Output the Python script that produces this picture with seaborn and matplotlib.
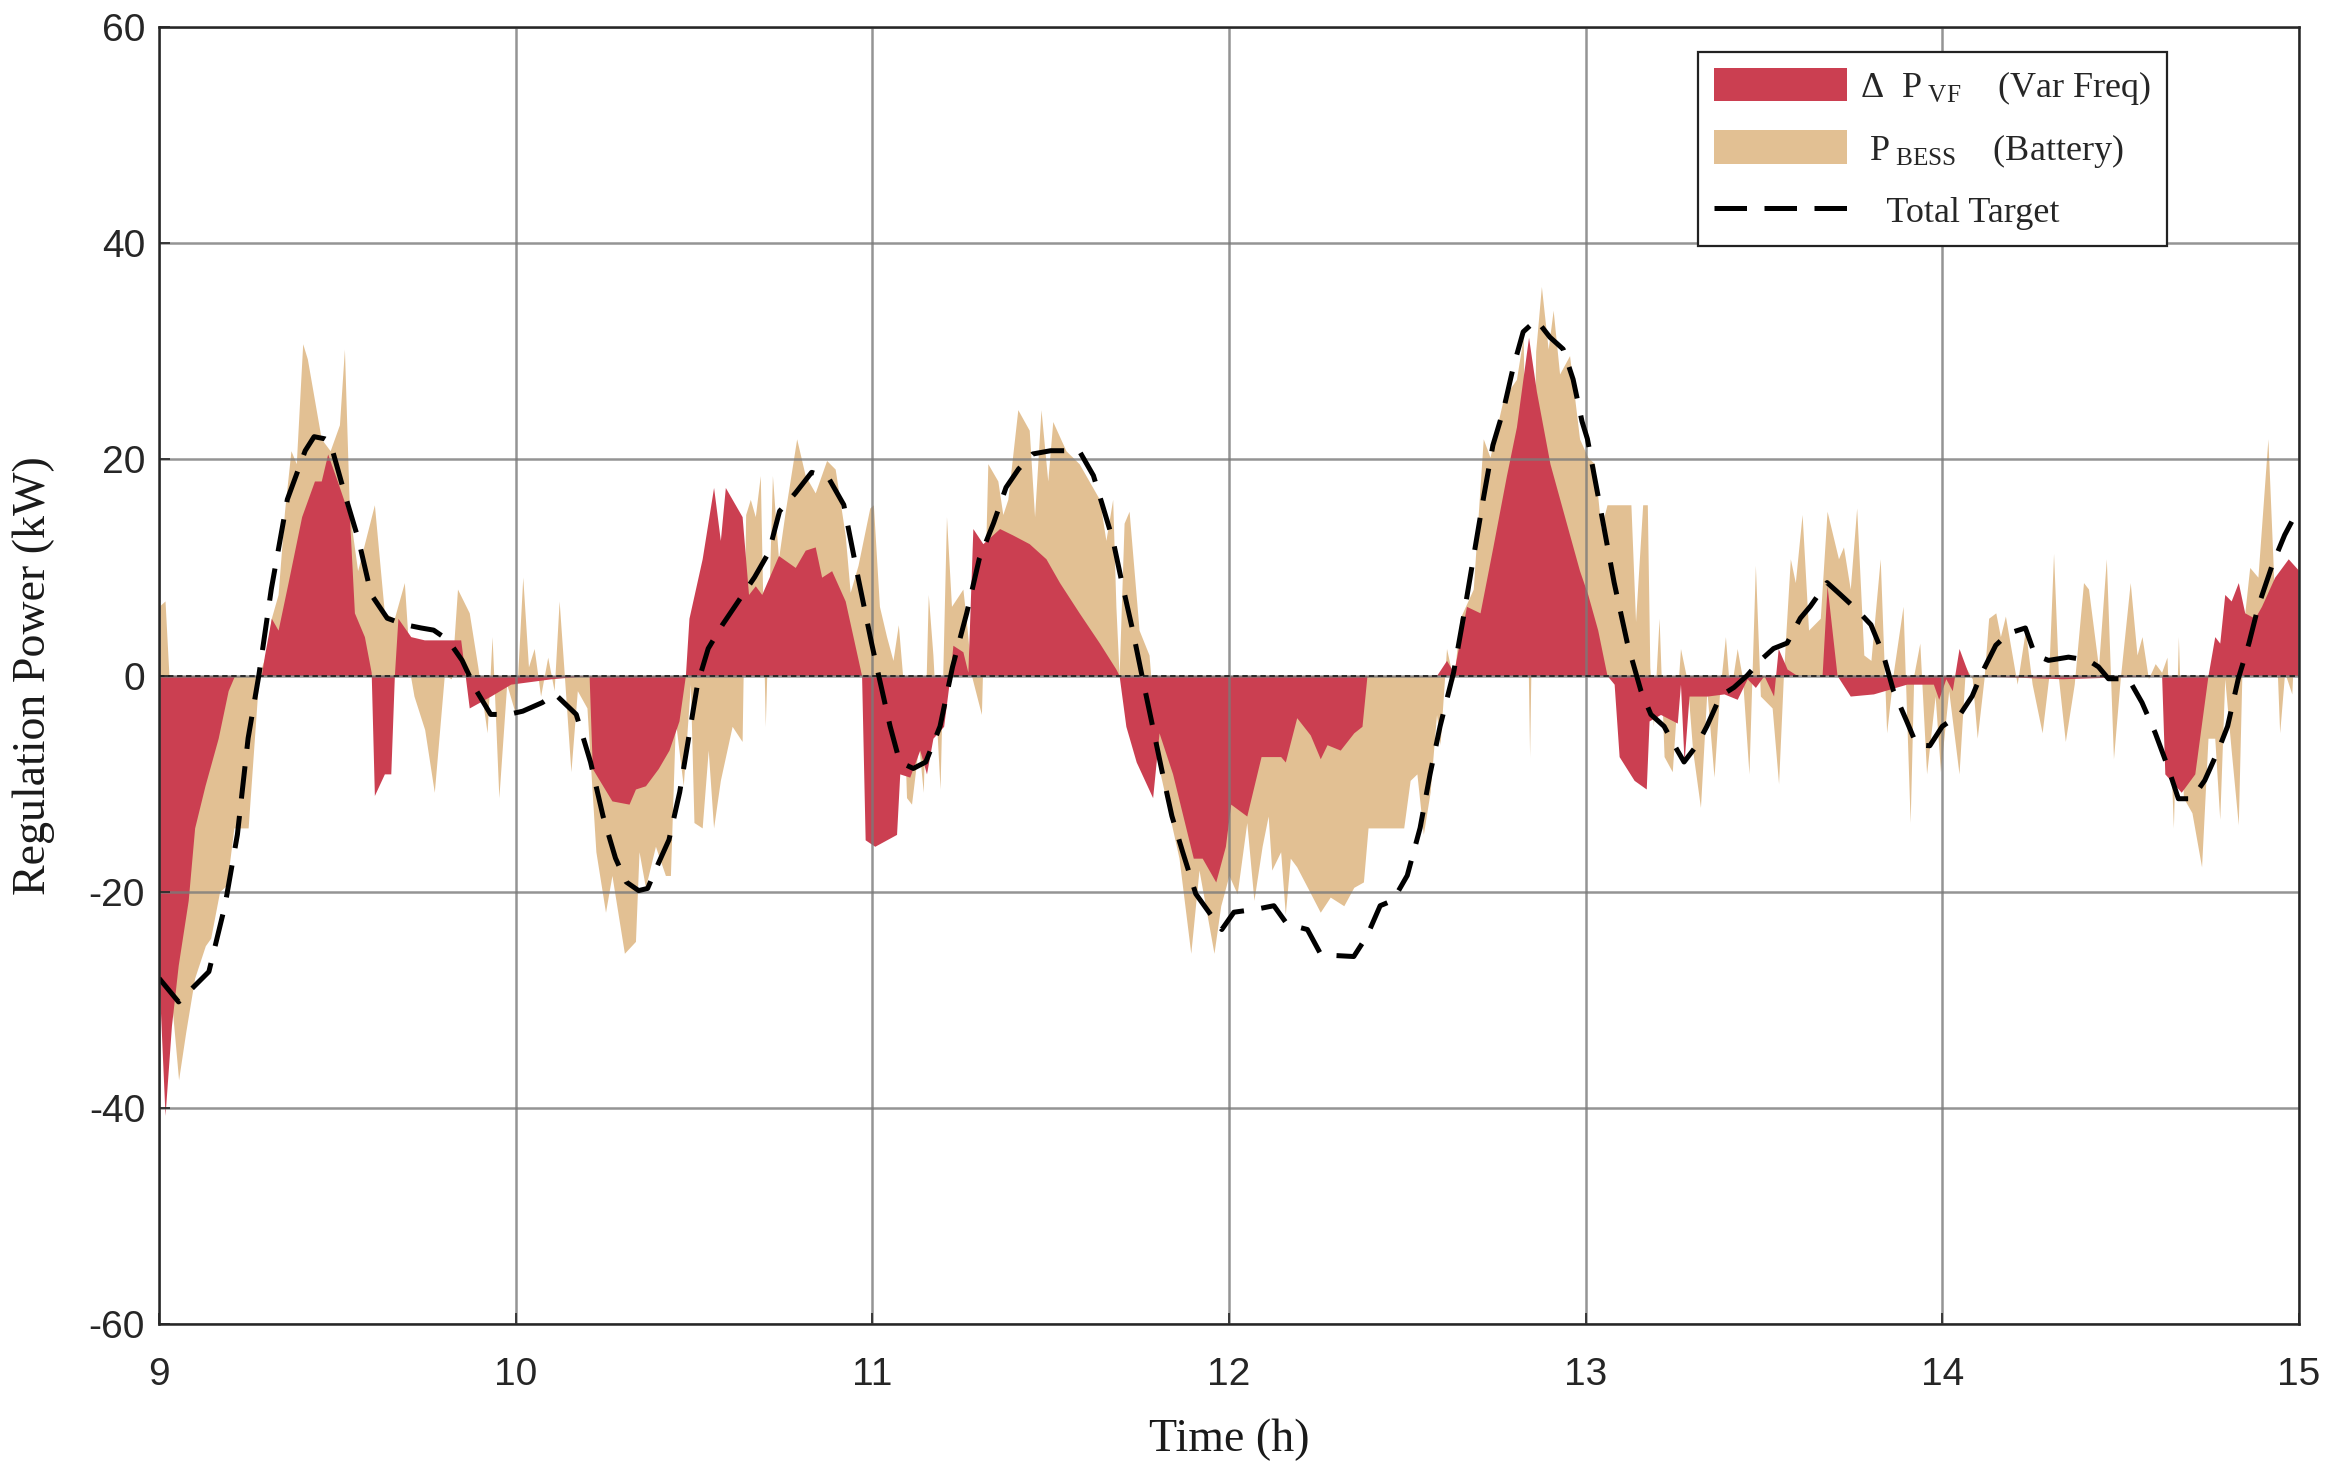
import numpy as np
import pandas as pd
import matplotlib
matplotlib.use("Agg")
import matplotlib.pyplot as plt
import seaborn as sns
from matplotlib.patches import Patch
from matplotlib.lines import Line2D

# ---------------- data ----------------
t_target = [9.0, 9.055, 9.14, 9.185, 9.22, 9.25, 9.28, 9.315, 9.36, 9.41, 9.435, 9.465, 9.48, 9.52, 9.56,
            9.595, 9.64, 9.69, 9.735, 9.77, 9.81, 9.85, 9.89, 9.93, 9.98, 10.02, 10.075, 10.11, 10.17, 10.21,
            10.245, 10.28, 10.31, 10.345, 10.37, 10.40, 10.43, 10.46, 10.485, 10.51, 10.54, 10.58, 10.625,
            10.67, 10.71, 10.74, 10.785, 10.83, 10.877, 10.92, 10.96, 10.998, 11.02, 11.05, 11.077, 11.115,
            11.15, 11.19, 11.225, 11.265, 11.30, 11.34, 11.375, 11.41, 11.45, 11.50, 11.545, 11.58, 11.62,
            11.645, 11.675, 11.70, 11.73, 11.758, 11.786, 11.814, 11.84, 11.87, 11.907, 11.944, 11.98, 12.014,
            12.08, 12.126, 12.163, 12.22, 12.256, 12.294, 12.35, 12.387, 12.424, 12.46, 12.50, 12.536, 12.564,
            12.592, 12.63, 12.657, 12.685, 12.713, 12.74, 12.77, 12.797, 12.825, 12.862, 12.90, 12.937, 12.965,
            12.99, 13.005, 13.043, 13.08, 13.117, 13.155, 13.183, 13.22, 13.248, 13.276, 13.313, 13.34, 13.378,
            13.416, 13.453, 13.49, 13.527, 13.565, 13.602, 13.63, 13.677, 13.714, 13.76, 13.80, 13.835, 13.863,
            13.90, 13.928, 13.965, 14.0, 14.05, 14.084, 14.112, 14.15, 14.186, 14.233, 14.26, 14.298, 14.354,
            14.41, 14.438, 14.466, 14.522, 14.56, 14.597, 14.634, 14.662, 14.70, 14.736, 14.774, 14.80, 14.83,
            14.86, 14.886, 14.925, 14.96, 15.0]
target = [-28, -30.2, -27.4, -21.3, -14.7, -5.8, 0, 8, 16.3, 20.8, 22.1, 21.9, 21.6, 16.9, 12.5,
          7.5, 5.3, 4.7, 4.4, 4.2, 3.3, 1.4, -1.4, -3.6, -3.6, -3.3, -2.5, -1.7, -3.6, -8,
          -13, -16.9, -19.1, -19.9, -19.7, -17.4, -15.2, -10.8, -5.8, -0.8, 2.5, 4.7, 6.9,
          9.1, 11.4, 15.2, 16.9, 18.8, 18.3, 15.8, 9.1, 3, -0.3, -4.7, -8, -8.6,
          -8, -4.7, 0.8, 5.8, 10.8, 14.1, 17.4, 19.1, 20.5, 20.8, 20.8, 20.8, 18.5,
          15.8, 12.5, 8.6, 4.2, -0.3, -4.7, -9.1, -13, -16.3, -20.2, -21.9, -23.5, -21.9,
          -21.6, -21.3, -23, -23.5, -25.7, -25.9, -26, -24.1, -21.3, -20.8, -18.5, -14.1, -9.1,
          -4.7, 0.3, 5.3, 10.8, 16.3, 21.3, 24.6, 28.5, 31.8, 32.9, 31.3, 30.2, 27.4,
          23.5, 21.9, 15.2, 8.6, 3, -1.4, -3.6, -4.7, -6.4, -8, -6.4, -4.7, -1.9,
          -1.1, 0, 1.4, 2.5, 3, 5.3, 6.4, 8.6, 7.5, 6.1, 4.7, 1.9, -1.4,
          -4.2, -6.4, -6.5, -4.7, -3.6, -1.9, 0.3, 2.8, 3.9, 4.4, 1.9, 1.4, 1.7,
          1.4, 0.8, -0.3, -0.3, -2.5, -5.3, -8.6, -11.4, -11.4, -9.7, -6.9, -4.7, -0.3,
          3, 6.4, 10.2, 13, 15.5]

t_vf = [9.0, 9.017, 9.035, 9.054, 9.082, 9.10, 9.129, 9.166, 9.194, 9.212, 9.287, 9.296, 9.315, 9.334,
        9.362, 9.40, 9.436, 9.455, 9.473, 9.50, 9.534, 9.548, 9.576, 9.595, 9.604, 9.632, 9.65, 9.66,
        9.67, 9.706, 9.744, 9.79, 9.846, 9.87, 9.93, 9.986, 10.10, 10.206, 10.215, 10.27, 10.318, 10.336,
        10.364, 10.40, 10.43, 10.458, 10.476, 10.486, 10.523, 10.555, 10.574, 10.588, 10.635, 10.653,
        10.672, 10.69, 10.737, 10.784, 10.812, 10.84, 10.858, 10.886, 10.924, 10.95, 10.97, 10.98, 11.007,
        11.068, 11.077, 11.105, 11.133, 11.152, 11.17, 11.20, 11.217, 11.226, 11.254, 11.268, 11.282,
        11.31, 11.357, 11.394, 11.44, 11.487, 11.525, 11.58, 11.637, 11.683, 11.692, 11.711, 11.74,
        11.786, 11.804, 11.842, 11.90, 11.925, 11.963, 11.99, 12.005, 12.05, 12.09, 12.145, 12.158,
        12.19, 12.228, 12.256, 12.275, 12.312, 12.35, 12.373, 12.387, 12.582, 12.61, 12.63, 12.666,
        12.704, 12.74, 12.778, 12.806, 12.84, 12.862, 12.90, 12.946, 12.983, 13.006, 13.034, 13.06,
        13.08, 13.094, 13.136, 13.17, 13.178, 13.21, 13.257, 13.266, 13.276, 13.29, 13.341, 13.388,
        13.425, 13.453, 13.476, 13.50, 13.527, 13.54, 13.565, 13.593, 13.663, 13.677, 13.705, 13.742,
        13.807, 13.90, 13.975, 13.99, 14.01, 14.028, 14.047, 14.075, 14.336, 14.615, 14.624, 14.67,
        14.708, 14.745, 14.764, 14.778, 14.792, 14.81, 14.83, 14.848, 14.876, 14.895, 14.932, 14.97, 15.0]
vf = [-28, -40.7, -32.4, -26.8, -20.8, -14.1, -10.2, -5.8, -1.4, 0, 0, 1.9, 5.3, 4.2,
      8.6, 14.7, 18, 18, 20.5, 18, 14.7, 5.8, 3.6, 0.3, -11.1, -9.1, -9.1, 0,
      5.3, 3.6, 3.3, 3.3, 3.3, -3, -1.9, -0.8, -0.3, 0, -8.6, -11.6, -11.9, -10.5,
      -10.2, -8.6, -6.9, -4.2, 0, 5.3, 10.8, 17.4, 12.5, 17.4, 14.7, 7.5,
      8.3, 7.5, 11.1, 10, 11.6, 11.9, 9.1, 9.7, 6.9, 3, 0, -15.2, -15.8,
      -14.7, -9.1, -9.4, -6.9, -9.1, -5.8, -4.7, -0.3, 2.8, 2.2, 0.3, 13.6,
      12.2, 13.6, 13, 12.2, 10.8, 8.6, 5.8, 3, 0.6, 0, -4.7, -8,
      -11.3, -5.3, -9.1, -16.9, -16.9, -19.1, -15.8, -11.9, -13, -7.5, -7.5, -8,
      -3.9, -5.5, -7.7, -6.4, -6.9, -5.3, -4.7, 0, 0, 1.4, 0.3, 6.4,
      5.8, 11.9, 18.5, 23, 31.3, 26.3, 19.6, 14.1, 9.7, 7.5, 4.2, 0,
      -0.8, -7.5, -9.7, -10.5, -4.2, -3.6, -4.4, -0.8, -8, -1.9, -1.9, -1.7,
      -2.2, -0.3, -1.1, 0, -1.9, 2.5, 0.6, 0, 0, 8.3, 0, -1.9,
      -1.7, -0.8, -0.8, -2.2, -0.3, -1.4, 2.5, 0, -0.3, 0, -9.1, -10.8,
      -9.1, 0, 3.6, 3, 7.5, 6.9, 8.6, 5.8, 5.3, 6.4, 9.1, 10.8, 9.7]

t_bess = [9.0, 9.017, 9.028, 9.035, 9.055, 9.075, 9.10, 9.13, 9.145, 9.17, 9.19, 9.21, 9.25, 9.28, 9.30,
          9.315, 9.334, 9.352, 9.37, 9.385, 9.403, 9.416, 9.455, 9.48, 9.506, 9.52, 9.534, 9.557, 9.604,
          9.632, 9.66, 9.688, 9.705, 9.715, 9.745, 9.772, 9.80, 9.82, 9.837, 9.87, 9.894, 9.92, 9.934,
          9.953, 9.975, 10.0, 10.02, 10.036, 10.052, 10.07, 10.09, 10.108, 10.122, 10.136, 10.155, 10.173,
          10.20, 10.225, 10.252, 10.27, 10.305, 10.336, 10.346, 10.364, 10.392, 10.42, 10.434, 10.448,
          10.47, 10.49, 10.50, 10.523, 10.54, 10.555, 10.574, 10.607, 10.635, 10.645, 10.658, 10.672,
          10.686, 10.70, 10.72, 10.737, 10.756, 10.788, 10.812, 10.84, 10.872, 10.896, 10.924, 10.938,
          10.96, 10.993, 11.003, 11.02, 11.04, 11.058, 11.073, 11.085, 11.096, 11.11, 11.13, 11.143,
          11.157, 11.17, 11.19, 11.208, 11.222, 11.254, 11.263, 11.278, 11.306, 11.324, 11.352, 11.366,
          11.38, 11.408, 11.44, 11.455, 11.473, 11.492, 11.506, 11.543, 11.58, 11.637, 11.655, 11.674,
          11.683, 11.692, 11.706, 11.72, 11.748, 11.776, 11.80, 11.86, 11.893, 11.916, 11.958, 11.977,
          12.0, 12.023, 12.05, 12.07, 12.093, 12.11, 12.12, 12.145, 12.158, 12.172, 12.19, 12.22, 12.256,
          12.284, 12.322, 12.35, 12.377, 12.39, 12.49, 12.508, 12.527, 12.545, 12.564, 12.582, 12.592,
          12.61, 12.63, 12.648, 12.685, 12.713, 12.732, 12.77, 12.806, 12.825, 12.843, 12.86, 12.876,
          12.895, 12.909, 12.927, 12.955, 12.983, 13.006, 13.025, 13.043, 13.06, 13.127, 13.14, 13.16,
          13.173, 13.18, 13.19, 13.206, 13.22, 13.243, 13.266, 13.285, 13.30, 13.322, 13.34, 13.36,
          13.375, 13.392, 13.405, 13.425, 13.44, 13.458, 13.476, 13.49, 13.523, 13.541, 13.555, 13.574,
          13.588, 13.607, 13.625, 13.658, 13.677, 13.709, 13.723, 13.742, 13.76, 13.78, 13.80, 13.826,
          13.844, 13.863, 13.89, 13.91, 13.92, 13.937, 13.956, 13.98, 13.995, 14.018, 14.047, 14.065,
          14.084, 14.098, 14.117, 14.13, 14.15, 14.163, 14.177, 14.21, 14.233, 14.252, 14.28, 14.298,
          14.312, 14.326, 14.345, 14.37, 14.396, 14.41, 14.438, 14.46, 14.48, 14.499, 14.527, 14.546,
          14.56, 14.578, 14.597, 14.615, 14.63, 14.648, 14.662, 14.676, 14.70, 14.727, 14.745, 14.764,
          14.778, 14.792, 14.81, 14.83, 14.843, 14.862, 14.885, 14.913, 14.927, 14.946, 14.96, 14.98, 15.0]
bess = [6.4, 6.9, 0, -30, -37.4, -33, -28, -25, -24.3, -20, -19.4, -14.1, -14.1, 0, 2,
        5.3, 7.5, 15.2, 20.8, 19.6, 30.7, 29.3, 21.9, 20.8, 23.2, 30.2, 15.2, 9.7, 15.8,
        5.8, 5.3, 8.6, 0, -1.9, -5, -10.8, 0, -0.3, 8, 5.8, 0.8, -5.3, 3.6,
        -11.3, -0.8, -3.6, 9.1, 0.8, 2.5, -1.9, 1.7, -1.4, 6.9, 0.3, -8.9, -1.4,
        -3, -16.3, -21.9, -18.5, -25.7, -24.6, -16.3, -19.6, -15.8, -18.5, -18.5, -4.2,
        -10.2, -0.8, -13.6, -14.1, -6.9, -14.1, -9.7, -4.7, -6.1, 14.9, 16.3, 14.7,
        18.5, -4.7, 18.5, 10.8, 15.2, 21.9, 18.5, 16.9, 19.9, 19.1, 13, 7.7,
        10.2, 15.5, 15.8, 6.4, 3.6, 1.4, 4.7, 0, -11.3, -11.9, -6.4, -10.8,
        7.5, 1.9, -10.5, 14.7, 6.4, 8, 5.3, 0, -3.6, 19.6, 18, 14.9,
        16.3, 24.6, 22.7, 14.7, 24.6, 18, 23.5, 20.8, 19.6, 16.3, 12.5, 16.3,
        6.4, 0, 14.1, 15.2, 4.2, 1.9, -8, -16.9, -25.7, -18, -25.7, -21.3,
        -18.5, -20.2, -13.6, -20.8, -15.8, -13, -18, -16.3, -22.1, -16.9, -17.7, -19.6, -21.9,
        -20.5, -21.3, -19.6, -19.1, -14.1, -14.1, -9.7, -9.1, -14.7, -10.8, -3.6, -6.4,
        2.5, -0.5, 5.3, 8, 21.9, 20.2, 25.7, 27.4, 31.3, -7.5, 30, 36,
        30.2, 33.8, 27.9, 29.6, 21.9, 20.2, 19.6, 13.6, 15.8, 15.8, 5, 15.8,
        15.8, 0.8, -4.7, 5.3, -7.5, -8.9, 2.5, -0.5, -6.9, -12.2, -1.4, -9.4,
        -1.9, 3.6, -1.9, 2.5, -0.3, -9.1, 10.2, -1.9, -3, -10, 0.3, 10.8,
        8.6, 14.9, 4.2, 5.3, 15.2, 10.8, 11.9, 8, 15.5, 1.9, 1.4, 10.8,
        -5.3, 0.3, 6.4, -13.6, 0, 3, -9.1, -1.9, -8.9, -1.4, -9.1, 0.8,
        -0.3, -5.8, -0.3, 5.3, 5.8, 3.6, 5.5, -0.8, 4.2, -0.8, -5.3, -0.3,
        11.3, -0.3, -6.1, -0.8, 8.6, 8, 0.8, 10.8, -7.7, -0.3, 8.6, 1.9,
        3.6, -0.3, 1.1, 0.3, 1.7, -14.1, 3.6, -11.3, -12.7, -17.7, -5.8, -5.8,
        -13.3, -0.3, -6.9, -13.8, 4.2, 10, 9.1, 21.9, 10.8, -5.3, 0.3, -1.7, 12.5]

x_ticks = [9, 10, 11, 12, 13, 14, 15]
y_ticks = [-60, -40, -20, 0, 20, 40, 60]
legend_labels = ["\u0394  P$_{\\ \\mathrm{VF}}$    (Var Freq)",
                 " P$_{\\ \\mathrm{BESS}}$    (Battery)",
                 "   Total Target"]

RED = "#CB3F51"
TAN = "#E2C093"

# ---------------- style ----------------
sns.set_theme(style="white")
plt.rcParams["font.family"] = ["Liberation Serif", "DejaVu Serif"]
plt.rcParams["axes.unicode_minus"] = False
plt.rcParams["mathtext.fontset"] = "custom"
plt.rcParams["mathtext.rm"] = "Liberation Serif"
plt.rcParams["mathtext.it"] = "Liberation Serif:italic"
plt.rcParams["mathtext.bf"] = "Liberation Serif:bold"

fig = plt.figure(figsize=(23.48, 14.78), dpi=100)
ax = fig.add_axes([0.0677, 0.1042, 0.9114, 0.8775])

ax.fill_between(t_bess, 0, bess, color=TAN, lw=0, zorder=1)
ax.fill_between(t_vf, 0, vf, color=RED, lw=0, zorder=2)
ax.axhline(0, color="#222222", lw=1.3, ls=(0, (3, 2)), zorder=3)

df_t = pd.DataFrame({"t": t_target, "p": target})
sns.lineplot(data=df_t, x="t", y="p", ax=ax, color="black", linewidth=3.6, zorder=5)
ax.lines[-1].set_dashes([6.5, 3.5])

ax.set_xlim(9, 15)
ax.set_ylim(-60, 60)
ax.set_xticks(x_ticks)
ax.set_yticks(y_ticks)
ax.set_axisbelow(False)
ax.grid(True, color="#7a7a7a", lw=1.8, alpha=0.8, zorder=4)

ax.tick_params(direction="in", length=8, width=1.2, labelsize=28, colors="#262626",
               bottom=True, left=True)
ax.tick_params(axis="x", pad=24)
ax.tick_params(axis="y", pad=10)
for lab in ax.get_xticklabels() + ax.get_yticklabels():
    lab.set_fontfamily("Liberation Sans")

for s in ax.spines.values():
    s.set_color("#262626")
    s.set_linewidth(1.8)
    s.set_zorder(6)

ax.set_xlabel("Time (h)", fontsize=33, labelpad=18, color="#1a1a1a")
ax.set_ylabel("Regulation Power (kW)", fontsize=33, labelpad=24, color="#1a1a1a")

handles = [Patch(facecolor=RED, edgecolor="none"),
           Patch(facecolor=TAN, edgecolor="none"),
           Line2D([0], [0], color="black", lw=3.6, dashes=[6.5, 3.5])]
leg = ax.legend(handles, legend_labels, loc="upper left", bbox_to_anchor=(0.719, 0.981),
                fontsize=26, frameon=True, fancybox=False, framealpha=1, edgecolor="#222222",
                handlelength=3.7, handleheight=1.05, labelspacing=0.65, borderpad=0.45,
                handletextpad=0.35, borderaxespad=0)
leg.get_frame().set_linewidth(1.6)
leg.set_zorder(10)

fig.savefig("out.png", dpi=100)
